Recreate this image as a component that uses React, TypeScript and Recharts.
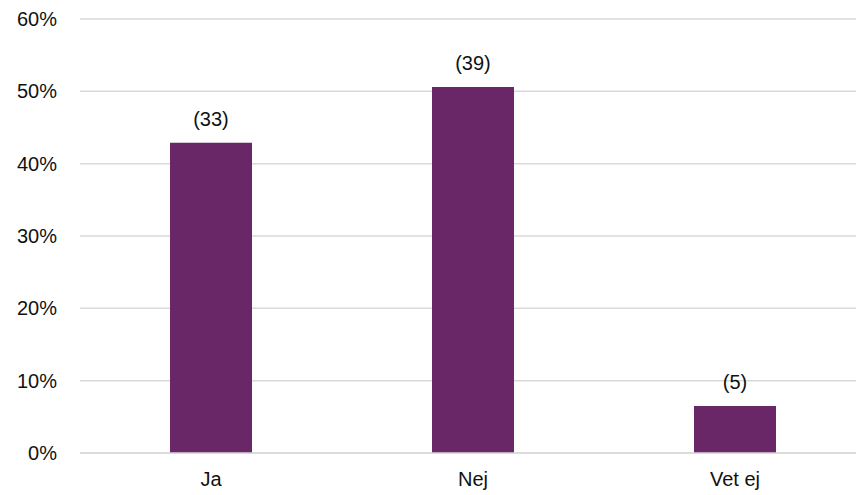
import { Bar, BarChart, CartesianGrid, LabelList, XAxis, YAxis } from 'recharts';

const categories = ['Ja', 'Nej', 'Vet ej'];
const percents = [42.9, 50.6, 6.5];
const counts = [33, 39, 5];
const yTicks = [0, 10, 20, 30, 40, 50, 60];

const data = categories.map((name, i) => ({ name, pct: percents[i], count: counts[i] }));

const font = 'Liberation Sans, Arial, sans-serif';

export default function App() {
  return (
    <div style={{ position: 'absolute', left: 0, top: 0, width: 856, height: 495, overflow: 'hidden', background: '#fff' }}>
      <BarChart width={866} height={495} data={data} margin={{ top: 19, right: 0, bottom: 12, left: 0 }}>
        <CartesianGrid stroke="#d9d9d9" strokeWidth={1.5} vertical={false} />
        <XAxis
          dataKey="name"
          axisLine={{ stroke: '#d9d9d9', strokeWidth: 1.5 }}
          tickLine={false}
          height={30}
          tickMargin={13}
          tick={{ fill: '#111', fontSize: 20, fontFamily: font }}
        />
        <YAxis
          domain={[0, 60]}
          ticks={yTicks}
          tickFormatter={(v: number) => `${v}%`}
          axisLine={false}
          tickLine={false}
          width={80}
          tickMargin={17}
          tick={{ fill: '#111', fontSize: 20, fontFamily: font }}
        />
        <Bar dataKey="pct" fill="#6a2768" barSize={82} isAnimationActive={false}>
          <LabelList
            dataKey="count"
            position="top"
            offset={17}
            formatter={(v: number) => `(${v})`}
            style={{ fill: '#111', fontSize: 20, fontFamily: font }}
          />
        </Bar>
      </BarChart>
    </div>
  );
}
